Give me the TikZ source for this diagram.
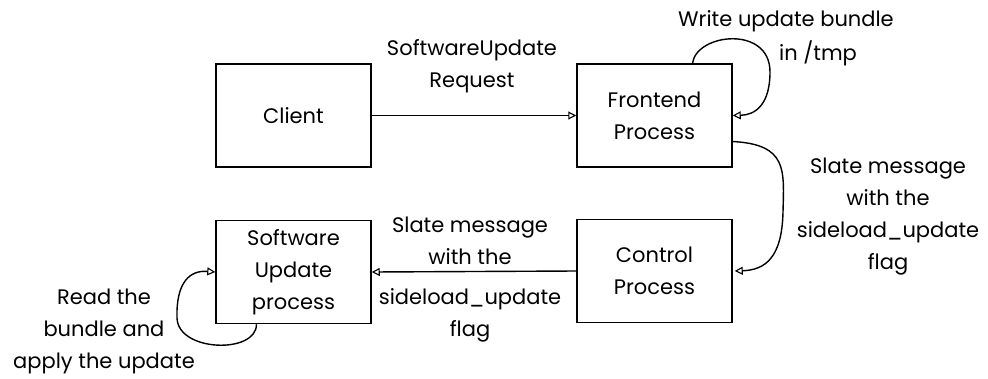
\documentclass[tikz,border=0pt]{standalone}
\usepackage{fontspec}
\setmainfont{Poppins}
\usetikzlibrary{arrows.meta}
\begin{document}
\begin{tikzpicture}[x=1pt,y=-1pt,
  font=\fontsize{21}{32}\selectfont,
  proc/.style={draw=black,line width=1.5pt,minimum width=155pt,minimum height=103pt,
    align=center,inner sep=0pt},
  lbl/.style={align=center,inner sep=0pt},
  flow/.style={draw=black,line width=1.4pt,
    -{Triangle[open,length=8pt,width=8pt,line width=1.1pt]}}]
  \useasboundingbox (0,0) rectangle (988,378);

  % process boxes
  \node[proc] (client) at (293.5,115.5) {Client};
  \node[proc] (front)  at (654.5,115.5) {Frontend\\Process};
  \node[proc] (ctrl)   at (654.5,271)   {Control\\Process};
  \node[proc] (swu)    at (293.5,272)   {Software\\Update\\process};

  % labels
  \node[lbl] (lreq)   at (472,66)  {SoftwareUpdate\\Request};
  \node[lbl] (lwrite) at (786,21) {Write update bundle};
  \node[lbl] (ltmp)   at (818,53) {in /tmp};
  \node[lbl] (lslate1) at (888,217) {Slate message\\with the\\sideload\_update\\flag};
  \node[lbl] (lslate2a) at (470,241) {Slate message\\with the};
  \node[lbl] (lslate2b) at (470,315) {sideload\_update\\flag};
  \node[lbl] (lread) at (104,331) {Read the\\bundle and\\apply the update};

  % connectors
  \draw[flow] (client.east) -- (front.west);
  \draw[flow] ([xshift=38pt]front.north)
     .. controls +(4,-30) and (770,25) .. (770,72)
     .. controls (770,105) and (755,115) .. (front.east);
  \draw[flow] ([yshift=-26pt]front.east)
     .. controls +(55,3) and (784,170) .. (783,212)
     .. controls (782,258) and (765,270) .. ([xshift=2pt]ctrl.east);
  \draw[flow] (ctrl.west) -- (swu.east);
  \draw[flow] ([xshift=-37pt]swu.south)
     .. controls +(0,30) and (178,352) .. (177,318)
     .. controls (176,282) and (190,270) .. (swu.west);
\end{tikzpicture}
\end{document}
